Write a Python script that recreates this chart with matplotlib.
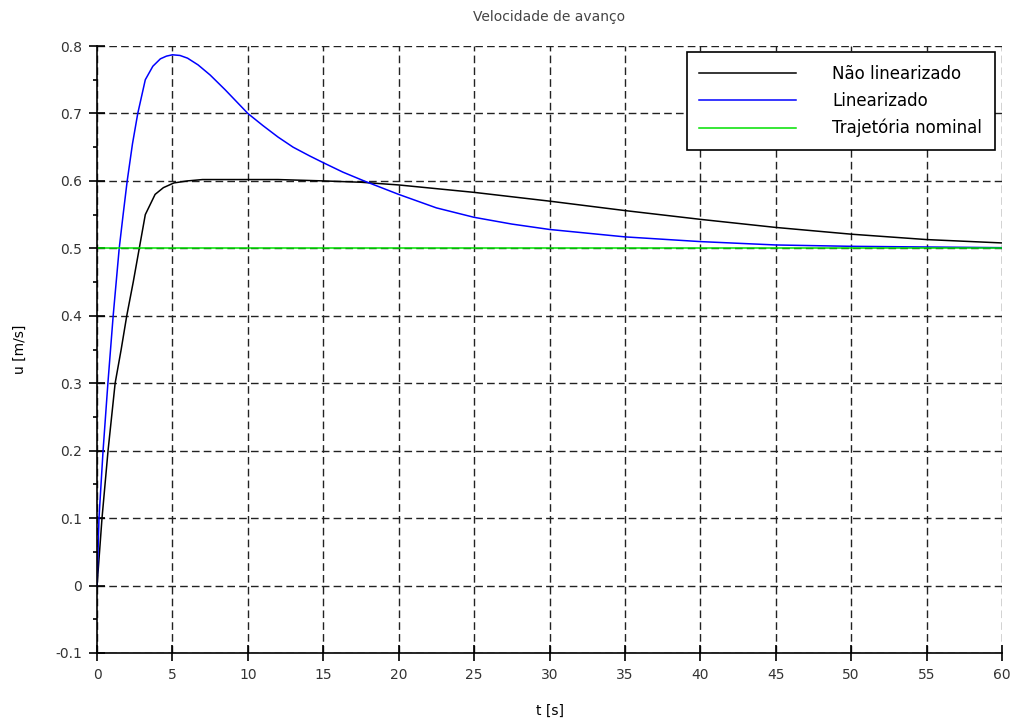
import numpy as np
import matplotlib.pyplot as plt
from matplotlib.ticker import MultipleLocator

# Velocidade de avanco
t_nl = [0, 0.1, 0.33, 0.73, 1.2, 1.6, 1.97, 2.4, 2.8, 3.2, 3.85, 4.4, 5.1, 6.0, 7.0,
        10, 12, 15, 17.5, 20, 25, 30, 35, 40, 45, 50, 55, 60]
u_nl = [0.0, 0.03, 0.1, 0.2, 0.3, 0.35, 0.4, 0.45, 0.5, 0.55, 0.58, 0.59, 0.597, 0.6,
        0.602, 0.602, 0.602, 0.600, 0.598, 0.594, 0.583, 0.57, 0.556, 0.543, 0.531,
        0.521, 0.513, 0.508]

t_lin = [0, 0.13, 0.4, 0.72, 1.07, 1.47, 1.73, 2.0, 2.35, 2.7, 3.2, 3.7, 4.2, 4.6, 5.0,
         5.5, 6.0, 6.7, 7.5, 8.5, 10, 11, 12, 13, 14.1, 15, 16.3, 17.7, 20, 22.5, 25,
         27.5, 30, 35, 40, 45, 50, 55, 60]
u_lin = [0.0, 0.1, 0.2, 0.3, 0.4, 0.5, 0.55, 0.6, 0.655, 0.7, 0.75, 0.77, 0.781, 0.785,
         0.787, 0.786, 0.782, 0.772, 0.757, 0.735, 0.70, 0.682, 0.665, 0.65, 0.637,
         0.627, 0.613, 0.6, 0.58, 0.56, 0.546, 0.536, 0.528, 0.517, 0.51, 0.505, 0.503,
         0.502, 0.501]

t_nom = [0, 60]
u_nom = [0.5, 0.5]

plt.rcParams['font.family'] = ['DejaVu Sans']

fig = plt.figure(figsize=(10.15, 7.27), dpi=100)
ax = fig.add_axes([0.0956, 0.1018, 0.8916, 0.8349])

ax.plot(t_nl, u_nl, color='black', lw=1.1, label='Não linearizado')
ax.plot(t_lin, u_lin, color='blue', lw=1.1, label='Linearizado')
ax.plot(t_nom, u_nom, color='#00e000', lw=1.1, label='Trajetória nominal')

ax.set_xlim(0, 60)
ax.set_ylim(-0.1, 0.8)
ax.xaxis.set_major_locator(MultipleLocator(5))
ax.yaxis.set_minor_locator(MultipleLocator(0.05))
ax.set_yticks(np.arange(-0.1, 0.81, 0.1))
ax.set_yticklabels(['-0.1', '0', '0.1', '0.2', '0.3', '0.4', '0.5', '0.6', '0.7', '0.8'])

ax.grid(True, which='major', color='#222222', linestyle=(0, (5.5, 3)), lw=1)
for s in ['top', 'right']:
    ax.spines[s].set_visible(False)
for s in ['left', 'bottom']:
    ax.spines[s].set_linewidth(1.2)

ax.tick_params(axis='x', direction='inout', length=11, width=1.2, labelsize=10,
               pad=5, labelcolor='#333333')
ax.tick_params(axis='y', direction='inout', length=12, width=1.2, labelsize=10,
               pad=5, labelcolor='#333333')
ax.tick_params(axis='y', which='minor', direction='out', length=3, width=1.2)

ax.set_title('Velocidade de avanço', fontsize=10, color='#444444', pad=18)
ax.set_xlabel('t [s]', fontsize=10, labelpad=16)
ax.set_ylabel('u [m/s]', fontsize=10, labelpad=20)

leg = ax.legend(loc='upper right', bbox_to_anchor=(0.992, 0.99), borderaxespad=0,
                fontsize=12, fancybox=False, framealpha=1, edgecolor='black',
                handlelength=5.8, handletextpad=2.2, borderpad=0.75, labelspacing=0.55)
leg.get_frame().set_linewidth(1.2)

fig.savefig('out.png', dpi=100)
